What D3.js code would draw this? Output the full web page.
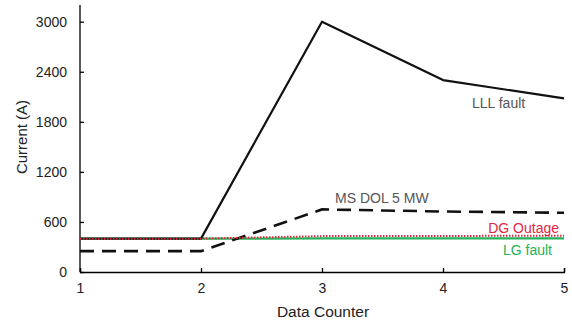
<!DOCTYPE html>
<html>
<head>
<meta charset="utf-8">
<script src="https://cdn.jsdelivr.net/npm/d3@7"></script>
<style>
  html, body { margin: 0; padding: 0; background: #fff; }
  svg { display: block; font-family: "Liberation Sans", Arial, sans-serif; }
</style>
</head>
<body>
<svg id="chart" width="572" height="327"></svg>
<script>
// Data counter samples and current readings (A) for each event
const counters = [1, 2, 3, 4, 5];
const lllFault = [400, 400, 3000, 2300, 2080];
const msDol5MW = [250, 250, 750, 725, 710];
const dgOutage = [400, 400, 430, 432, 435];
const lgFault  = [400, 400, 402, 402, 402];
const yTicks = [0, 600, 1200, 1800, 2400, 3000];
const xTicks = [1, 2, 3, 4, 5];

const svg = d3.select("#chart");
const x = d3.scaleLinear().domain([1, 5]).range([80, 564]);
const y = d3.scaleLinear().domain([0, 3200]).range([272, 5]);

// Axes: ticks point into the plot area
const yAxis = d3.axisLeft(y).tickValues(yTicks).tickSize(-4).tickPadding(13).tickFormat(d3.format("d"));
const xAxis = d3.axisBottom(x).tickValues(xTicks).tickSize(-4).tickPadding(11).tickFormat(d3.format("d"));

const gy = svg.append("g").attr("transform", `translate(${x(1)},0)`).call(yAxis);
const gx = svg.append("g").attr("transform", `translate(0,${y(0)})`).call(xAxis);
[gx, gy].forEach(g => {
  g.select(".domain").attr("stroke", "#000").attr("stroke-width", 1.3);
  g.selectAll(".tick line").attr("stroke", "#000").attr("stroke-width", 1.3);
  g.selectAll(".tick text").attr("fill", "#222").attr("font-size", 14)
    .attr("font-family", "'Liberation Sans', Arial, sans-serif");
});
gy.select(".domain").attr("d", `M0,${y(3200)}V${y(0)}`);

const line = d3.line().x((d, i) => x(counters[i])).y(d => y(d));

// Series, drawn bottom to top
svg.append("path").datum(lgFault).attr("d", line)
  .attr("fill", "none").attr("stroke", "#22b35a").attr("stroke-width", 2.2);
svg.append("path").datum(msDol5MW).attr("d", line)
  .attr("fill", "none").attr("stroke", "#111").attr("stroke-width", 2.6)
  .attr("stroke-dasharray", "14,8");
svg.append("path").datum(lllFault).attr("d", line)
  .attr("fill", "none").attr("stroke", "#111").attr("stroke-width", 2.2)
  .attr("stroke-linejoin", "round");
svg.append("path").datum(dgOutage).attr("d", line)
  .attr("fill", "none").attr("stroke", "#e3263f").attr("stroke-width", 2)
  .attr("stroke-dasharray", "1.5,1.5");

// Series labels
const labels = [
  { text: "LLL fault", x: 472, y: 108, fill: "#555", anchor: "start" },
  { text: "MS DOL 5 MW", x: 335, y: 203, fill: "#555", anchor: "start" },
  { text: "DG Outage", x: 559, y: 233, fill: "#e3263f", anchor: "end" },
  { text: "LG fault", x: 552, y: 255, fill: "#22b35a", anchor: "end" }
];
svg.selectAll("text.series").data(labels).enter().append("text")
  .attr("class", "series")
  .attr("x", d => d.x).attr("y", d => d.y)
  .attr("text-anchor", d => d.anchor)
  .attr("fill", d => d.fill)
  .attr("font-size", 14)
  .text(d => d.text);

// Axis titles
svg.append("text").attr("x", 323).attr("y", 317).attr("text-anchor", "middle")
  .attr("font-size", 15.5).attr("fill", "#222").text("Data Counter");
svg.append("text").attr("transform", "translate(27,137) rotate(-90)")
  .attr("text-anchor", "middle").attr("font-size", 15).attr("fill", "#222")
  .text("Current (A)");
</script>
</body>
</html>
